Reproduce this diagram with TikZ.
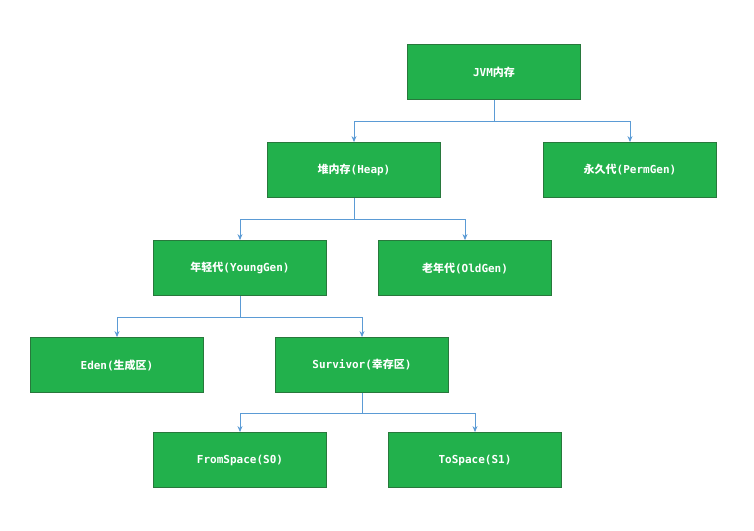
\documentclass[tikz,border=0pt]{standalone}
\usepackage{fontspec}
\usetikzlibrary{arrows.meta}
\setmainfont{DejaVu Sans Mono}
\newfontfamily\cjk{Noto Sans CJK SC}
\definecolor{boxg}{RGB}{34,177,76}
\definecolor{boxb}{RGB}{40,120,60}
\definecolor{lineb}{RGB}{91,155,213}
\begin{document}
\begin{tikzpicture}[x=1pt,y=-1pt,
  box/.style={draw=boxb,line width=0.8pt,fill=boxg,minimum width=173pt,minimum height=55pt,text=white,font=\fontsize{11}{13}\selectfont\bfseries,inner sep=0pt},
  conn/.style={draw=lineb,line width=1pt,-{Stealth[length=6pt,width=5pt]}}]
\useasboundingbox (0,0) rectangle (754,530);
\node[box] (jvm) at (494,72) {JVM{\cjk 内存}};
\node[box] (heap) at (354,170) {{\cjk 堆内存}(Heap)};
\node[box] (perm) at (630,170) {{\cjk 永久代}(PermGen)};
\node[box] (young) at (240,268) {{\cjk 年轻代}(YoungGen)};
\node[box] (old) at (465,268) {{\cjk 老年代}(OldGen)};
\node[box] (eden) at (117,365) {Eden({\cjk 生成区})};
\node[box] (surv) at (362,365) {Survivor({\cjk 幸存区})};
\node[box] (s0) at (240,460) {FromSpace(S0)};
\node[box] (s1) at (475,460) {ToSpace(S1)};
\coordinate (j1) at (494,121);
\coordinate (j2) at (354,219);
\coordinate (j3) at (240,317);
\coordinate (j4) at (362,413);
\draw[draw=lineb,line width=1pt] (jvm.south) -- (j1);
\draw[conn] (j1) -| (heap.north);
\draw[conn] (j1) -| (perm.north);
\draw[draw=lineb,line width=1pt] (heap.south) -- (j2);
\draw[conn] (j2) -| (young.north);
\draw[conn] (j2) -| (old.north);
\draw[draw=lineb,line width=1pt] (young.south) -- (j3);
\draw[conn] (j3) -| (eden.north);
\draw[conn] (j3) -| (surv.north);
\draw[draw=lineb,line width=1pt] (surv.south) -- (j4);
\draw[conn] (j4) -| (s0.north);
\draw[conn] (j4) -| (s1.north);
\end{tikzpicture}
\end{document}
